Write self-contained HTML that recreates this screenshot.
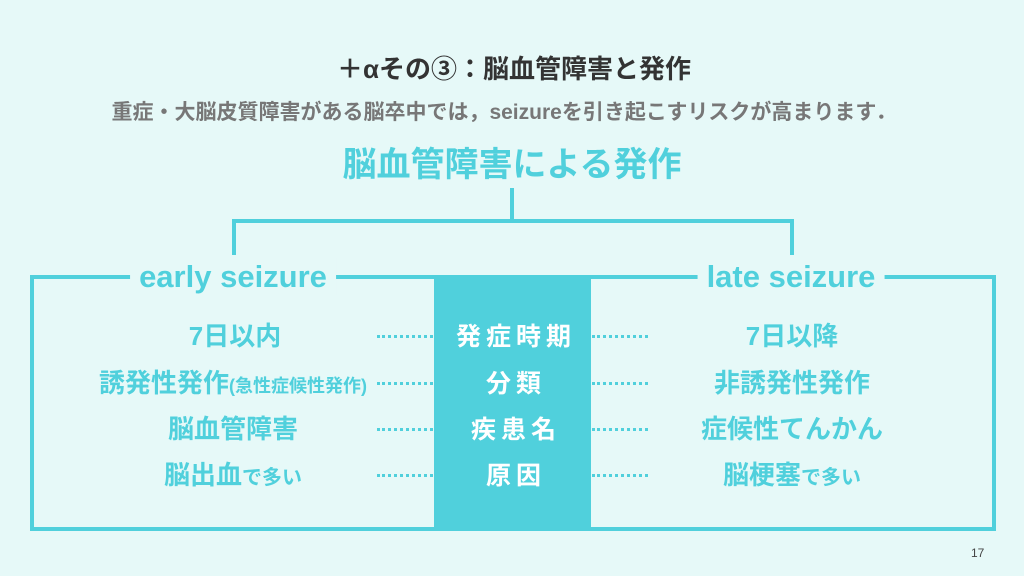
<!DOCTYPE html>
<html><head><meta charset="utf-8"><style>
body{margin:0;width:1024px;height:576px;background:#e6f9f8;position:relative;overflow:hidden;font-family:"Liberation Sans","Noto Sans CJK JP",sans-serif;}
.a{position:absolute;}
.c{position:absolute;transform:translateX(-50%);white-space:nowrap;font-weight:bold;line-height:1.2;}
.bar{position:absolute;background:#50d0dc;}
.dot{position:absolute;height:0;border-top:3px dotted #50d0dc;width:56px;}
.cy{color:#50d0dc;font-size:26px;}
.w{color:#fff;font-size:25px;letter-spacing:5px;}
</style></head><body>
<div class="c" style="left:514px;top:54px;font-size:26px;color:#333;">＋αその③：脳血管障害と発作</div>
<div class="c" style="left:504px;top:100px;font-size:21px;color:#777;">重症・大脳皮質障害がある脳卒中では，seizureを引き起こすリスクが高まります．</div>
<div class="c" style="left:512px;top:145px;font-size:34px;color:#50d0dc;">脳血管障害による発作</div>
<div class="bar" style="left:510px;top:188px;width:4px;height:34px;"></div>
<div class="bar" style="left:232px;top:219px;width:562px;height:4px;"></div>
<div class="bar" style="left:232px;top:219px;width:4px;height:36px;"></div>
<div class="bar" style="left:790px;top:219px;width:4px;height:36px;"></div>
<div class="a" style="left:30px;top:275px;width:958px;height:248px;border:4px solid #50d0dc;"></div>
<div class="bar" style="left:434px;top:275px;width:157px;height:254px;"></div>
<div class="c" style="left:233px;top:258px;font-size:31px;color:#50d0dc;background:#e6f9f8;padding:0 9px;">early seizure</div>
<div class="c" style="left:791px;top:258px;font-size:31px;color:#50d0dc;background:#e6f9f8;padding:0 9px;">late seizure</div>

<div class="c cy" style="left:235px;top:321px;">7日以内</div>
<div class="c cy" style="left:233px;top:368px;">誘発性発作<span style="font-size:18px">(急性症候性発作)</span></div>
<div class="c cy" style="left:233px;top:414px;">脳血管障害</div>
<div class="c cy" style="left:233px;top:460px;">脳出血<span style="font-size:20px">で多い</span></div>

<div class="c w" style="left:516px;top:322px;">発症時期</div>
<div class="c w" style="left:516px;top:369px;">分類</div>
<div class="c w" style="left:516px;top:415px;">疾患名</div>
<div class="c w" style="left:516px;top:461px;">原因</div>

<div class="c cy" style="left:792px;top:321px;">7日以降</div>
<div class="c cy" style="left:792px;top:368px;">非誘発性発作</div>
<div class="c cy" style="left:792px;top:414px;">症候性てんかん</div>
<div class="c cy" style="left:792px;top:460px;">脳梗塞<span style="font-size:20px">で多い</span></div>

<div class="dot" style="left:377px;top:335px;"></div><div class="dot" style="left:592px;top:335px;"></div>
<div class="dot" style="left:377px;top:382px;"></div><div class="dot" style="left:592px;top:382px;"></div>
<div class="dot" style="left:377px;top:428px;"></div><div class="dot" style="left:592px;top:428px;"></div>
<div class="dot" style="left:377px;top:474px;"></div><div class="dot" style="left:592px;top:474px;"></div>

<div class="a" style="left:971px;top:546px;font-size:12px;color:#444;">17</div>
</body></html>
